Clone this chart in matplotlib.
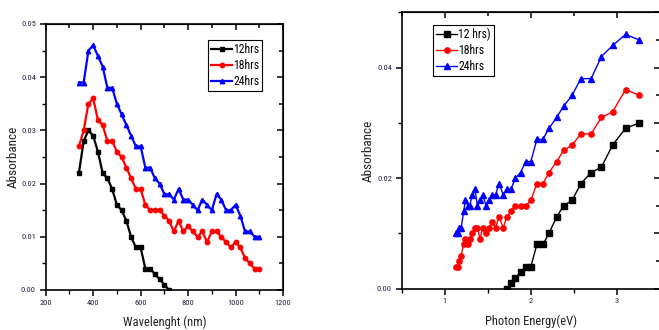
import matplotlib
matplotlib.use('Agg')
import matplotlib.pyplot as plt
from matplotlib.ticker import MultipleLocator, FormatStrFormatter

plt.rcParams['font.family'] = ['Liberation Sans Narrow', 'Roboto Condensed', 'Archivo Narrow',
                               'Liberation Sans', 'DejaVu Sans']

# ---------------- data ----------------
wavelength_nm = [340, 360, 380, 400, 420, 440, 460, 480, 500, 520, 540, 560, 580, 600,
                 620, 640, 660, 680, 700, 720, 740, 760, 780, 800, 820, 840, 860, 880,
                 900, 920, 940, 960, 980, 1000, 1020, 1040, 1060, 1080, 1100]

abs_12hrs = [0.022, 0.028, 0.030, 0.029, 0.026, 0.022, 0.021, 0.019, 0.016, 0.015,
             0.013, 0.010, 0.008, 0.008, 0.004, 0.004, 0.003, 0.002, 0.001, 0.000]

abs_18hrs = [0.027, 0.030, 0.035, 0.036, 0.032, 0.031, 0.028, 0.028, 0.026, 0.025,
             0.023, 0.021, 0.019, 0.019, 0.016, 0.015, 0.015, 0.015, 0.014, 0.013,
             0.011, 0.013, 0.011, 0.012, 0.011, 0.010, 0.011, 0.009, 0.011, 0.011,
             0.010, 0.009, 0.008, 0.009, 0.008, 0.006, 0.005, 0.004, 0.004]

abs_24hrs = [0.039, 0.039, 0.045, 0.046, 0.044, 0.042, 0.038, 0.038, 0.035, 0.033,
             0.031, 0.029, 0.027, 0.027, 0.023, 0.023, 0.021, 0.020, 0.018, 0.018,
             0.017, 0.019, 0.017, 0.017, 0.016, 0.015, 0.017, 0.016, 0.015, 0.018,
             0.017, 0.015, 0.015, 0.016, 0.014, 0.011, 0.011, 0.010, 0.010]

# photon energy (eV) of the points shown in the right panel (380 nm ... 1100 nm)
photon_energy_ev = [3.26, 3.10, 2.95, 2.82, 2.70, 2.58, 2.48, 2.38, 2.30, 2.21,
                    2.14, 2.07, 2.00, 1.94, 1.88, 1.82, 1.77, 1.72, 1.68, 1.63,
                    1.59, 1.55, 1.51, 1.48, 1.44, 1.41, 1.38, 1.35, 1.32, 1.29,
                    1.27, 1.24, 1.22, 1.19, 1.17, 1.15, 1.13]

left_labels = ['12hrs', '18hrs', '24hrs']
right_labels = ['12 hrs)', '18hrs', '24hrs']
colors = ['#000000', '#ff0000', '#0000ff']
markers = ['s', 'o', '^']

# ---------------- figure ----------------
fig = plt.figure(figsize=(6.59, 3.30), dpi=100)
W, H = 659.0, 330.0

def style_axes(ax, xmaj, xmin, ymaj, ymin, yrmaj, yrmin):
    for s in ax.spines.values():
        s.set_linewidth(1.2)
    ax.xaxis.set_major_locator(MultipleLocator(xmaj))
    ax.xaxis.set_minor_locator(MultipleLocator(xmin))
    ax.yaxis.set_major_locator(MultipleLocator(ymaj))
    ax.yaxis.set_minor_locator(MultipleLocator(ymin))
    ax.tick_params(which='major', direction='out', length=4.5, width=1.1, labelsize=6,
                   pad=2.5, labelcolor='#222244')
    ax.tick_params(which='minor', direction='out', length=3, width=1.0)
    top = ax.secondary_xaxis('top')
    top.xaxis.set_major_locator(MultipleLocator(xmaj))
    top.xaxis.set_minor_locator(MultipleLocator(xmin))
    top.tick_params(which='both', direction='in', labeltop=False, width=1.1)
    top.tick_params(which='major', length=4)
    top.tick_params(which='minor', length=3)
    right = ax.secondary_yaxis('right')
    right.yaxis.set_major_locator(MultipleLocator(yrmaj))
    right.yaxis.set_minor_locator(MultipleLocator(yrmin))
    right.tick_params(which='both', direction='in', labelright=False, width=1.1)
    right.tick_params(which='major', length=4)
    right.tick_params(which='minor', length=3)

series = [abs_12hrs, abs_18hrs, abs_24hrs]

# Left panel
axL = fig.add_axes([45.7 / W, 1 - 290 / H, (283 - 45.7) / W, (290 - 24) / H])
for vals, lab, c, m in zip(series, left_labels, colors, markers):
    axL.plot(wavelength_nm[:len(vals)], vals, color=c, marker=m, markersize=3.2,
             linewidth=1.6, label=lab)
axL.set_xlim(200, 1200)
axL.set_ylim(0, 0.05)
style_axes(axL, 200, 100, 0.01, 0.005, 0.01, 0.005)
axL.yaxis.set_major_formatter(FormatStrFormatter('%.2f'))
axL.set_xlabel('Wavelenght (nm)', fontsize=9, color='#222222')
axL.set_ylabel('Absorbance', fontsize=9.5, color='#222222')
axL.xaxis.set_label_coords(0.5, -(316 - 290) / 266)
axL.yaxis.set_label_coords((20 - 45.7) / 237.3, 0.5)
legL = axL.legend(loc='upper left', bbox_to_anchor=(0.684, 0.94), fontsize=8.5,
                  frameon=True, fancybox=False, edgecolor='black', framealpha=1,
                  handlelength=1.8, handletextpad=0.1, borderpad=0.25,
                  labelspacing=0.25, borderaxespad=0)
legL.get_frame().set_linewidth(0.8)

# Right panel
axR = fig.add_axes([401.7 / W, 1 - 288.7 / H, (660 - 401.7) / W, (288.7 - 12.3) / H])
for vals, lab, c, m in zip(series, right_labels, colors, markers):
    v = vals[2:]
    axR.plot(photon_energy_ev[:len(v)], v, color=c, marker=m, markersize=3.8,
             linewidth=1.0, label=lab)
axR.set_xlim(0.5, 3.5)
axR.set_ylim(0, 0.05)
style_axes(axR, 1, 0.5, 0.02, 0.01, 0.01, 0.005)
axR.yaxis.set_major_formatter(FormatStrFormatter('%.2f'))
axR.set_xlabel('Photon Energy(eV)', fontsize=9, color='#222222')
axR.set_ylabel('Absorbance', fontsize=9.5, color='#222222')
axR.xaxis.set_label_coords(0.5, -(315 - 288.7) / 276.4)
axR.yaxis.set_label_coords((375 - 401.7) / 258.3, 0.5)
legR = axR.legend(loc='upper left', bbox_to_anchor=(0.121, 0.955), fontsize=8.5,
                  frameon=True, fancybox=False, edgecolor='black', framealpha=1,
                  handlelength=1.8, handletextpad=0.1, borderpad=0.25,
                  labelspacing=0.25, borderaxespad=0)
legR.get_frame().set_linewidth(0.8)

fig.savefig('out.png', dpi=100)
